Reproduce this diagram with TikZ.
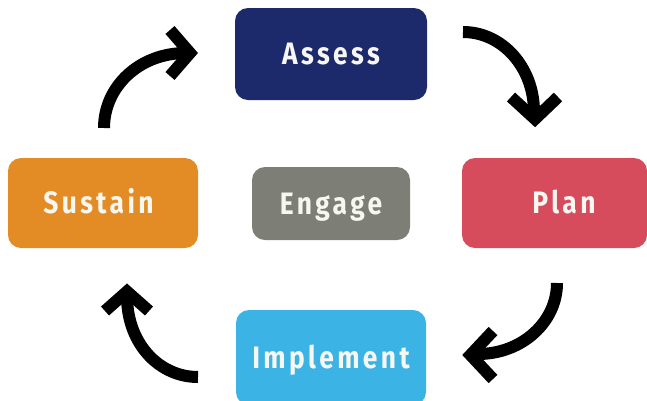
\documentclass[tikz,border=0pt]{standalone}
\usepackage{fontspec}
\newfontfamily\lblfont{Fira Sans}[FakeStretch=0.85,LetterSpace=11]
\definecolor{assesscol}{HTML}{1C2A6C}
\definecolor{plancol}{HTML}{D64C5C}
\definecolor{sustaincol}{HTML}{E38C26}
\definecolor{engagecol}{HTML}{7D7E76}
\definecolor{implcol}{HTML}{3BB3E5}
\definecolor{txtcol}{HTML}{F7F7F2}
\begin{document}
\begin{tikzpicture}[x=1pt,y=-1pt]
\tikzset{
  box/.style={rectangle, rounded corners=13pt, inner sep=0pt, text=txtcol,
    font=\lblfont\bfseries\fontsize{31}{31}\selectfont,
    text height=21.5pt, text depth=0pt},
  arr/.style={line width=12pt, line cap=butt, draw=black},
  head/.style={line width=12pt, line join=miter, line cap=butt, draw=black},
}
\useasboundingbox (0,0) rectangle (647,400);
\clip (0,0) rectangle (647,400);
% boxes
\node[box, fill=assesscol, minimum width=192pt, minimum height=92pt] (assess) at (331,54) {Assess};
\node[box, fill=sustaincol, minimum width=190pt, minimum height=90pt] (sustain) at (103,203) {Sustain\hspace*{9pt}};
\node[box, fill=engagecol, minimum width=158pt, minimum height=73pt] (engage) at (331,203.5) {Engage};
\node[box, fill=plancol, minimum width=185pt, minimum height=90pt] (plan) at (554.5,203) {\hspace*{19pt}Plan};
\node[box, fill=implcol, minimum width=190pt, minimum height=95pt] (implement) at (331,357.5) {Implement};
% arrow coordinates
\coordinate (a1s) at (104,128);
\coordinate (a1e) at (186,53);
\coordinate (a1t) at (190,53);
\coordinate (a2s) at (463,32);
\coordinate (a2e) at (534,112);
\coordinate (a2t) at (535,119);
\coordinate (a3s) at (557,283);
\coordinate (a3e) at (478,354);
\coordinate (a3t) at (470.5,355);
\coordinate (a4s) at (198,377);
\coordinate (a4e) at (127,298);
\coordinate (a4t) at (127,291.5);
% Sustain -> Assess
\draw[arr] (a1s) .. controls (104,87) and (139,53) .. (a1e);
\draw[head] (170,30) -- (a1t) -- (170,76);
% Assess -> Plan
\draw[arr] (a2s) .. controls (502,32) and (534,67) .. (a2e);
\draw[head] (511,97) -- (a2t) -- (558,97);
% Plan -> Implement
\draw[arr] (a3s) .. controls (557,322) and (522,354) .. (a3e);
\draw[head] (493,331) -- (a3t) -- (493,379);
% Implement -> Sustain
\draw[arr] (a4s) .. controls (160,377) and (128,345) .. (a4e);
\draw[head] (105,311) -- (a4t) -- (149,311);
\end{tikzpicture}
\end{document}
